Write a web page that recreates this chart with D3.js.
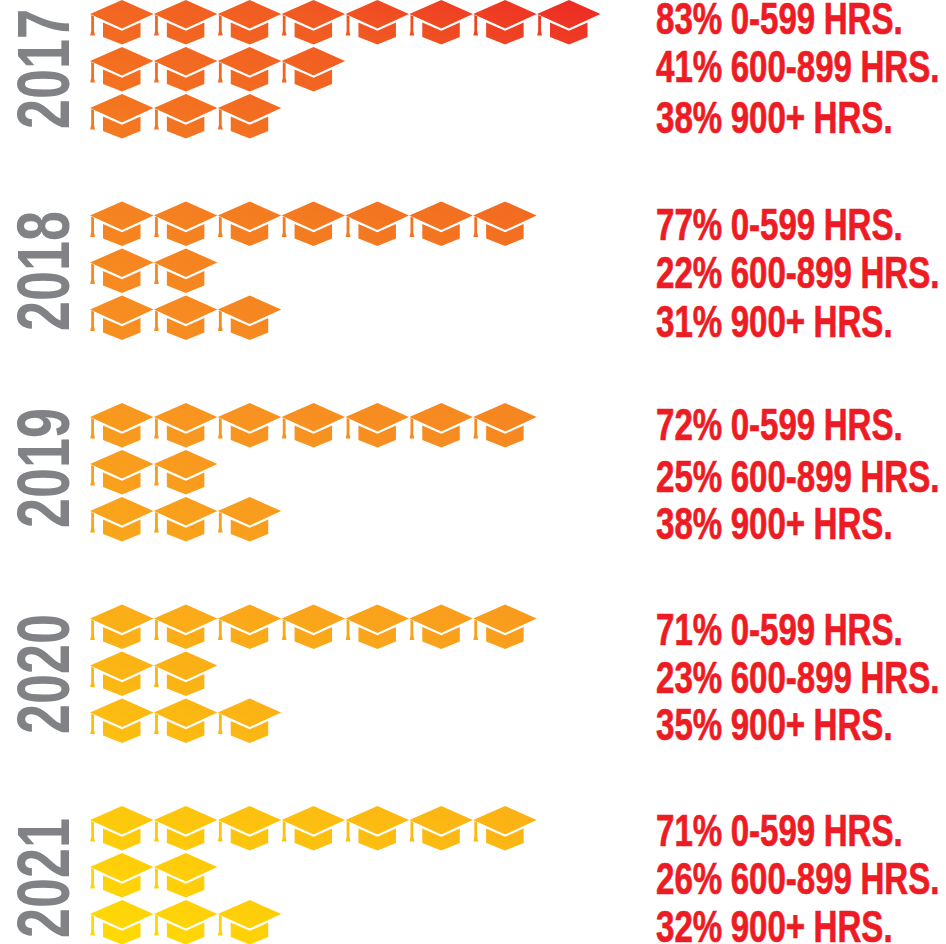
<!DOCTYPE html>
<html>
<head>
  <meta charset="utf-8">
  <title>Graduation hours by year</title>
  <script src="https://d3js.org/d3.v7.min.js"></script>
  <style>
    html, body { margin: 0; padding: 0; background: #fff; }
    svg { display: block; }
    text { font-family: "Liberation Sans", sans-serif; font-weight: 700; }
  </style>
</head>
<body>
  <script>
    var years = [2017, 2018, 2019, 2020, 2021];
    var hourBands = ["0-599", "600-899", "900+"];

    // percent per hour band, one list per band
    var pctLow = [83, 77, 72, 71, 71];
    var pctMid = [41, 22, 25, 23, 26];
    var pctHigh = [38, 31, 38, 35, 32];

    // number of caps drawn per hour band
    var capsLow = [8, 7, 7, 7, 7];
    var capsMid = [4, 2, 2, 2, 2];
    var capsHigh = [3, 3, 3, 3, 3];

    var pct = [pctLow, pctMid, pctHigh];
    var caps = [capsLow, capsMid, capsHigh];

    var width = 946, height = 944;

    var svg = d3.select("body").append("svg")
      .attr("width", width)
      .attr("height", height)
      .attr("viewBox", "0 0 " + width + " " + height);

    // one gradient across the whole page, red top right to yellow bottom left
    var grad = svg.append("defs").append("linearGradient")
      .attr("id", "capFill")
      .attr("gradientUnits", "userSpaceOnUse")
      .attr("x1", 560).attr("y1", -40)
      .attr("x2", 140).attr("y2", 944);
    [[0, "#ec1f25"], [0.14, "#f15a22"], [0.32, "#f47b20"], [0.52, "#f89420"], [0.74, "#fbb016"], [1, "#ffd905"]]
      .forEach(function(s) {
        grad.append("stop").attr("offset", s[0]).attr("stop-color", s[1]);
      });

    var yearTop = d3.scaleLinear().domain([2017, 2021]).range([0, 806]);
    var capX = d3.scaleLinear().domain([0, 7]).range([90, 537]);
    var rowY = d3.scaleLinear().domain([0, 2]).range([0, 94]);

    // cap outline, unit box 63 wide
    var board = [[0, 14], [32, 0], [63.5, 14], [32, 28.5]];
    var base = [[13, 22.5], [32, 30.8], [50.5, 22.5], [50.5, 37], [32, 44.5], [13, 37]];
    var tassel = [[1.2, 15], [4, 16.2], [4, 31], [5, 35.5], [0.2, 35.5], [1.2, 31]];
    var line = d3.line();

    var capData = [];
    years.forEach(function(y, yi) {
      caps.forEach(function(list, row) {
        d3.range(list[yi]).forEach(function(i) {
          capData.push({ year: y, row: row, i: i });
        });
      });
    });

    // the gradient is in page space, so paths get absolute points
    function shift(points, d) {
      var dx = capX(d.i), dy = yearTop(d.year) + rowY(d.row);
      return points.map(function(p) { return [p[0] + dx, p[1] + dy]; });
    }

    var capsG = svg.append("g").attr("fill", "url(#capFill)");

    [["board", board], ["base", base], ["tassel", tassel]].forEach(function(part) {
      capsG.selectAll("path." + part[0]).data(capData).enter().append("path")
        .attr("class", part[0])
        .attr("d", function(d) { return line(shift(part[1], d)) + "Z"; });
    });

    // year labels, spacing in the picture is not quite even
    var yearLabelY = d3.scaleLinear().domain(years).range([69, 271, 468, 674, 878]);
    svg.selectAll("text.year").data(years).enter().append("text")
      .attr("class", "year")
      .attr("transform", function(d) {
        return "translate(69," + yearLabelY(d) + ") rotate(-90) scale(0.72,1)";
      })
      .attr("text-anchor", "middle")
      .attr("font-size", 75)
      .attr("fill", "#808285")
      .text(function(d) { return d; });

    // right hand labels
    var textBase = [
      [34, 82, 133],
      [240, 288, 337],
      [440, 492, 539],
      [645, 693, 740],
      [846, 894, 942]
    ];
    var labels = [];
    years.forEach(function(y, yi) {
      hourBands.forEach(function(b, bi) {
        labels.push({ text: pct[bi][yi] + "% " + b + " HRS.", y: textBase[yi][bi] });
      });
    });

    svg.selectAll("text.label").data(labels).enter().append("text")
      .attr("class", "label")
      .attr("transform", function(d) { return "translate(656," + d.y + ") scale(0.735,1)"; })
      .attr("font-size", 45)
      .attr("word-spacing", -1)
      .attr("fill", "#ed1c24")
      .attr("stroke", "#ed1c24")
      .attr("stroke-width", 0.7)
      .text(function(d) { return d.text; });
  </script>
</body>
</html>
